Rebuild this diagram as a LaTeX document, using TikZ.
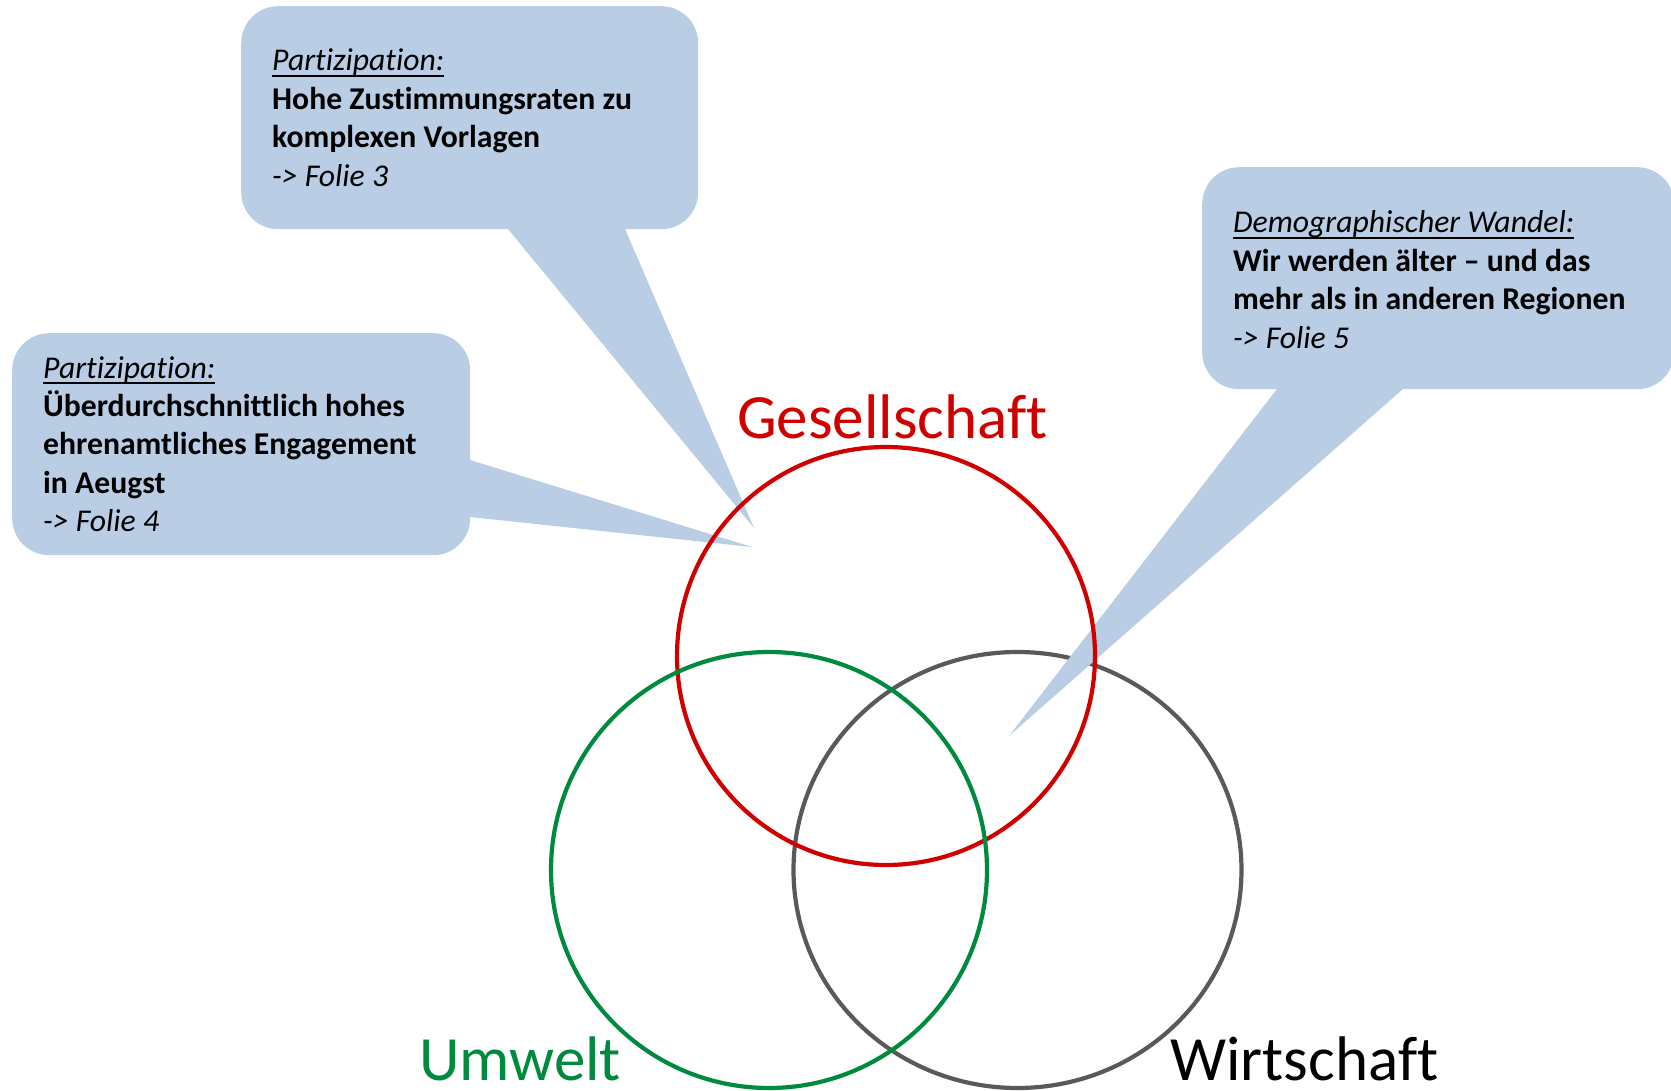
\documentclass[tikz,border=0pt]{standalone}
\usepackage{fontspec}
\setmainfont{Carlito}[Ligatures=NoCommon]
\usetikzlibrary{shapes.geometric}
\definecolor{callblue}{RGB}{185,205,229}
\definecolor{gesred}{RGB}{208,0,0}
\definecolor{umgreen}{RGB}{0,138,62}
\definecolor{wgray}{RGB}{89,89,89}
\newcommand\myul[1]{\leavevmode\setbox0\hbox{#1}\rlap{\rule[-6pt]{\wd0}{2pt}}\box0}
\begin{document}
\begin{tikzpicture}[x=1pt,y=-1pt,
  box/.style={rectangle,rounded corners=37pt,fill=callblue,inner sep=0pt,anchor=north west},
  tail/.style={fill=callblue},
  ctext/.style={anchor=base west,inner sep=0pt,font=\fontsize{31.7pt}{38.4pt}\selectfont},
  ring/.style={draw,line width=4.2pt,inner sep=0pt,fill=none},
  biglabel/.style={anchor=base west,inner sep=0pt,text depth=0pt,font=\fontsize{63pt}{70pt}\selectfont}]
\useasboundingbox (0,0) rectangle (1671,1091);
% gray circle (Wirtschaft)
\node[ring,ellipse,draw=wgray,minimum width=448pt,minimum height=436pt] (wirt) at (1017.5,870) {};
% callout boxes
\node[box,minimum width=457pt,minimum height=223pt] (callA) at (241,6) {};
\node[box,minimum width=458pt,minimum height=222pt] (callB) at (12,333) {};
\node[box,minimum width=472pt,minimum height=222pt] (callC) at (1202,167) {};
% tails
\coordinate (tipA) at (754,528);
\coordinate (tipB) at (752,547);
\coordinate (tipC) at (1009,736);
\fill[tail] (508,210) -- (508,229) -- (tipA) -- (625,229) -- (625,210) -- cycle;
\fill[tail] (450,460) -- (470,460) -- (tipB) -- (470,517) -- (450,517) -- cycle;
\fill[tail] (1277,370) -- (1277,389) -- (tipC) -- (1403,389) -- (1403,370) -- cycle;
% callout texts
\node[ctext] (textA) at (272,71) {\parbox[t]{420pt}{\myul{\itshape Partizipation:}\\
  \bfseries Hohe Zustimmungsraten zu\\ komplexen Vorlagen\\ \mdseries\itshape -> Folie 3}};
\node[ctext] (textB) at (43,378) {\parbox[t]{420pt}{\myul{\itshape Partizipation:}\\
  \bfseries Überdurchschnittlich hohes\\ ehrenamtliches Engagement\\ in Aeugst\\ \mdseries\itshape -> Folie 4}};
\node[ctext] (textC) at (1233,233) {\parbox[t]{430pt}{\myul{\itshape Demographischer Wandel:}\\
  \bfseries Wir werden älter – und das\\ mehr als in anderen Regionen\\ \mdseries\itshape -> Folie 5}};
% red and green circles
\node[ring,circle,draw=gesred,minimum size=418pt] (ges) at (886,656) {};
\node[ring,circle,draw=umgreen,minimum size=436pt] (umw) at (769,870) {};
% labels
\node[biglabel,text=gesred] (lges) at (737,438) {Gesellschaft};
\node[biglabel,text=umgreen] (lumw) at (419,1080) {Umwelt};
\node[biglabel,text=black] (lwirt) at (1170,1080) {Wirtschaft};
\end{tikzpicture}
\end{document}
